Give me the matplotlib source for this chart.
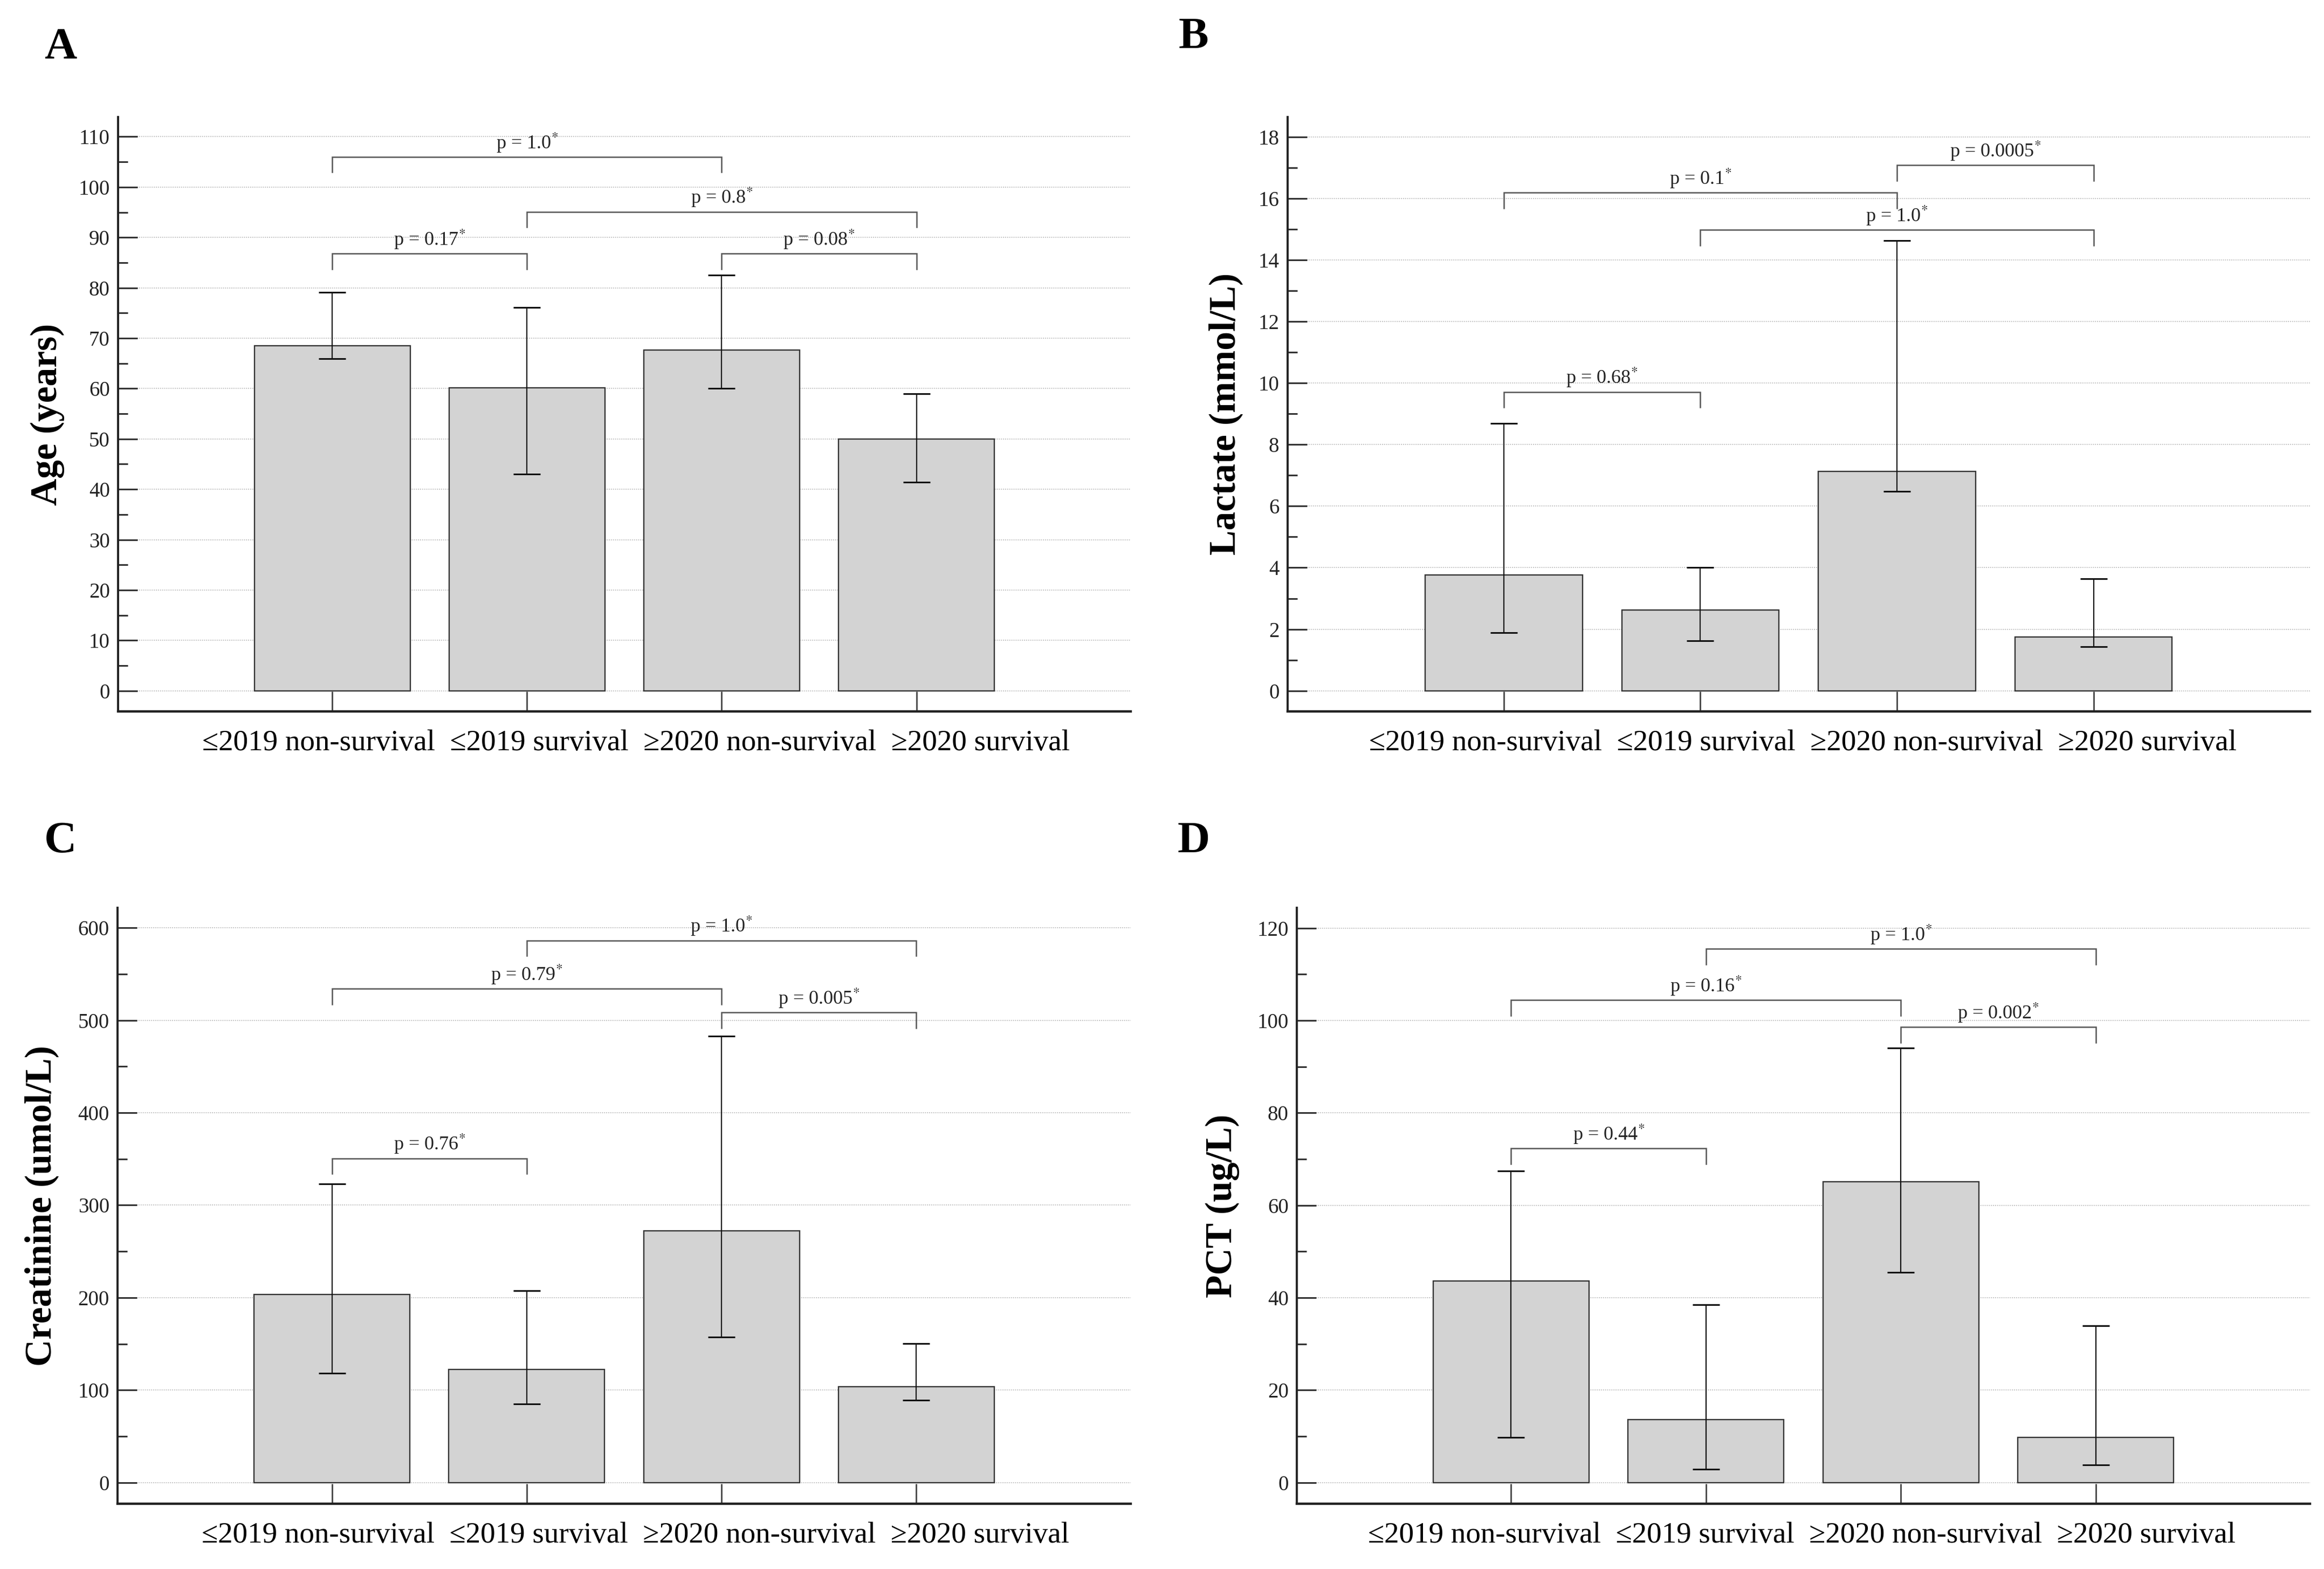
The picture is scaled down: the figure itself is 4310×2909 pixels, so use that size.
import matplotlib
matplotlib.use('Agg')
import matplotlib.pyplot as plt
from matplotlib.ticker import MultipleLocator

plt.rcParams['font.family'] = ['Liberation Serif', 'DejaVu Serif']
plt.rcParams['mathtext.fontset'] = 'stix'

groups = ['≤2019 non-survival', '≤2019 survival', '≥2020 non-survival', '≥2020 survival']

# panel A: age
age_mean = [68.5, 60.1, 67.6, 50.0]
age_low = [65.9, 43.0, 60.0, 41.4]
age_high = [79.1, 76.1, 82.5, 59.0]
age_pairs = [(0, 2), (1, 3), (0, 1), (2, 3)]
age_bracket_y = [106.0, 95.1, 86.8, 86.8]
age_p = ['1.0', '0.8', '0.17', '0.08']

# panel B: lactate
lac_mean = [3.77, 2.62, 7.12, 1.75]
lac_low = [1.88, 1.62, 6.47, 1.44]
lac_high = [8.68, 4.01, 14.62, 3.64]
lac_pairs = [(0, 2), (2, 3), (1, 3), (0, 1)]
lac_bracket_y = [16.18, 17.08, 14.97, 9.71]
lac_p = ['0.1', '0.0005', '1.0', '0.68']

# panel C: creatinine
cre_mean = [203.5, 122.2, 272.2, 103.6]
cre_low = [118.4, 85.1, 157.6, 88.9]
cre_high = [322.9, 207.8, 482.7, 150.5]
cre_pairs = [(1, 3), (0, 2), (2, 3), (0, 1)]
cre_bracket_y = [586.4, 534.0, 508.4, 350.7]
cre_p = ['1.0', '0.79', '0.005', '0.76']

# panel D: PCT
pct_mean = [43.6, 13.6, 65.1, 9.8]
pct_low = [9.8, 2.9, 45.5, 3.8]
pct_high = [67.4, 38.5, 94.0, 33.9]
pct_pairs = [(1, 3), (0, 2), (2, 3), (0, 1)]
pct_bracket_y = [115.5, 104.4, 98.6, 72.3]
pct_p = ['1.0', '0.16', '0.002', '0.44']

panels = [
    dict(letter='A', ylabel='Age (years)', mean=age_mean, low=age_low, high=age_high,
         pairs=age_pairs, by=age_bracket_y, p=age_p, ylim=(-4.1, 113.9), major=10, minor=5,
         rect=[0.0508, 0.5466, 0.4357, 0.3788], letter_xy=(0.0190, 0.9629), ylab_x=0.0205,
         lab_x=0.083),
    dict(letter='B', ylabel='Lactate (mmol/L)', mean=lac_mean, low=lac_low, high=lac_high,
         pairs=lac_pairs, by=lac_bracket_y, p=lac_p, ylim=(-0.67, 18.64), major=2, minor=1,
         rect=[0.554, 0.5466, 0.4399, 0.3788], letter_xy=(0.507, 0.9694), ylab_x=0.5274,
         lab_x=0.080),
    dict(letter='C', ylabel='Creatinine (umol/L)', mean=cre_mean, low=cre_low, high=cre_high,
         pairs=cre_pairs, by=cre_bracket_y, p=cre_p, ylim=(-22.9, 621.8), major=100, minor=50,
         rect=[0.0506, 0.0416, 0.4359, 0.3799], letter_xy=(0.0190, 0.4569), ylab_x=0.0180,
         lab_x=0.083),
    dict(letter='D', ylabel='PCT (ug/L)', mean=pct_mean, low=pct_low, high=pct_high,
         pairs=pct_pairs, by=pct_bracket_y, p=pct_p, ylim=(-4.58, 124.4), major=20, minor=10,
         rect=[0.558, 0.0416, 0.436, 0.3799], letter_xy=(0.5065, 0.4569), ylab_x=0.526,
         lab_x=0.070),
]

fig = plt.figure(figsize=(43.1, 29.09), dpi=100)

for pn in panels:
    ax = fig.add_axes(pn['rect'])
    x = list(range(len(groups)))
    ax.bar(x, pn['mean'], width=0.8, color='#d3d3d3', edgecolor='#333333',
           linewidth=1.7, zorder=2)
    err = [[m - lo for m, lo in zip(pn['mean'], pn['low'])],
           [hi - m for m, hi in zip(pn['mean'], pn['high'])]]
    ax.errorbar(x, pn['mean'], yerr=err, fmt='none', ecolor='#111111', elinewidth=1.6,
                capsize=18, capthick=2.2, zorder=3)

    y0, y1 = pn['ylim']
    leg = 0.026 * (y1 - y0)
    for (i, j), yb, pv in zip(pn['pairs'], pn['by'], pn['p']):
        ax.plot([i, i, j, j], [yb - leg, yb, yb, yb - leg], color='#555555', lw=1.8,
                solid_joinstyle='miter', zorder=4)
        ax.annotate('p = ' + pv + r'$^{*}$', xy=((i + j) / 2, yb), xytext=(0, 11),
                    textcoords='offset points', ha='center', va='baseline',
                    fontsize=26, color='#222222')

    ax.set_xlim(-1.1, 4.1)
    ax.set_ylim(y0, y1)
    ax.set_xticks(x)
    ax.set_xticklabels([])
    # category names run as one row under the axis, as in the original figure
    ax.annotate('  '.join(groups), xy=(pn['lab_x'], 0), xycoords='axes fraction',
                xytext=(0, -24), textcoords='offset points', ha='left', va='top',
                fontsize=39.6)
    ax.yaxis.set_major_locator(MultipleLocator(pn['major']))
    ax.yaxis.set_minor_locator(MultipleLocator(pn['minor']))
    ax.set_ylim(y0, y1)
    ax.tick_params(axis='y', which='major', direction='in', length=26, width=2.2,
                   labelsize=28, pad=11, color='#333333')
    ax.tick_params(axis='y', which='minor', direction='in', length=13, width=2.2,
                   color='#333333')
    ax.tick_params(axis='x', direction='in', length=27, width=2, color='#444444')
    for lbl in ax.get_yticklabels():
        lbl.set_color('#222222')

    ax.grid(axis='y', which='major', linestyle=(0, (1, 1)), color='#c4c4c4', lw=1.4)
    ax.set_axisbelow(True)
    for s in ['top', 'right']:
        ax.spines[s].set_visible(False)
    ax.spines['left'].set_linewidth(2.8)
    ax.spines['bottom'].set_linewidth(3.2)
    ax.spines['left'].set_color('#222222')
    ax.spines['bottom'].set_color('#222222')

    cy = pn['rect'][1] + pn['rect'][3] / 2
    fig.text(pn['ylab_x'], cy, pn['ylabel'], rotation=90, ha='center', va='center',
             fontsize=50, fontweight='bold')
    fig.text(pn['letter_xy'][0], pn['letter_xy'][1], pn['letter'], ha='left',
             va='baseline', fontsize=60, fontweight='bold')

fig.savefig('out.png', dpi=100)
